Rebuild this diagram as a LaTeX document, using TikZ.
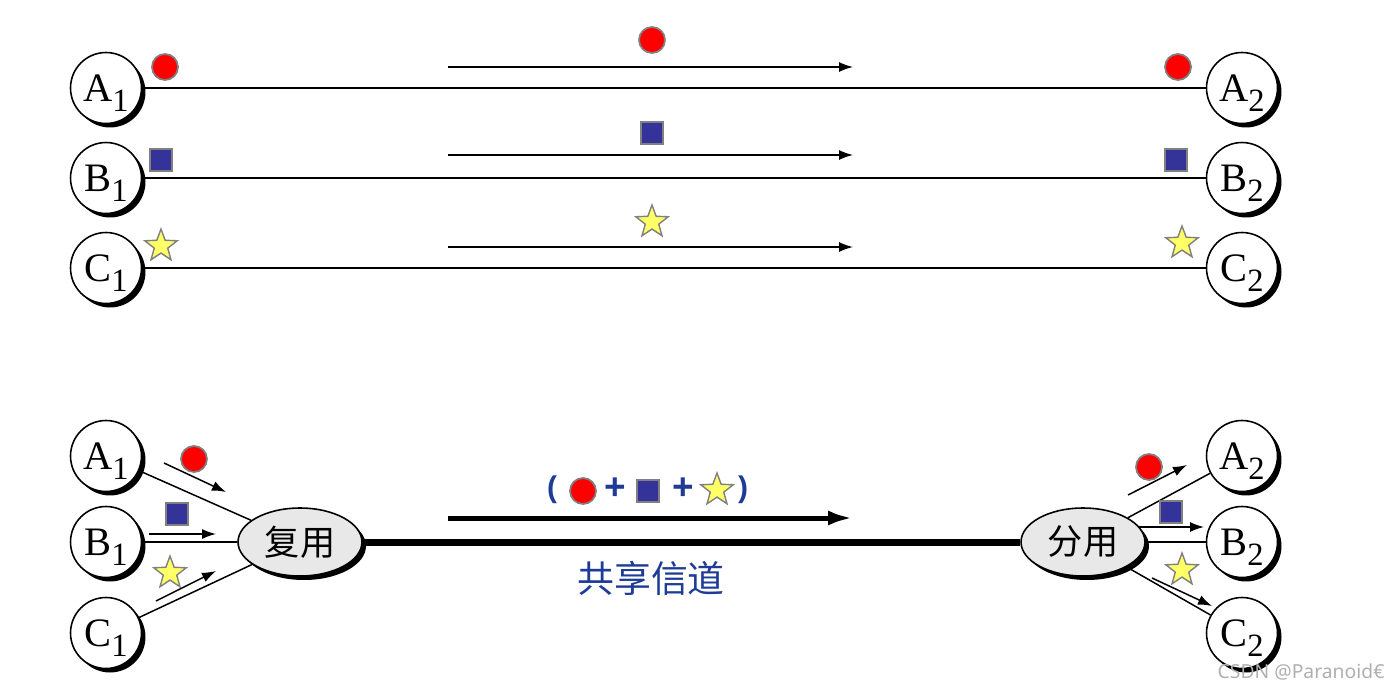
\documentclass[tikz,border=0pt]{standalone}
\usepackage{fontspec}
\setmainfont{Liberation Serif}
\newfontfamily\cjk{Noto Sans CJK SC}
\newfontfamily\wmfont{Noto Sans}
\newfontfamily\plusfont{Liberation Sans}
\usetikzlibrary{shapes.geometric,arrows.meta,shadows}
\definecolor{sqblue}{RGB}{51,51,153}
\definecolor{staryellow}{RGB}{255,255,102}
\definecolor{txtblue}{RGB}{30,60,150}
\definecolor{wmgray}{RGB}{175,175,175}
\newcommand{\hostlabel}[2]{\fontsize{23pt}{23pt}\selectfont #1\raisebox{-5.7pt}[0pt][0pt]{\fontsize{18.5pt}{18.5pt}\selectfont #2}}
\tikzset{
  host/.style={circle, draw, line width=0.9pt, fill=white, minimum size=1.42cm, inner sep=0pt,
    drop shadow={opacity=1, fill=black, shadow xshift=0.08cm, shadow yshift=-0.08cm}},
  muxnode/.style={ellipse, draw, line width=0.9pt, fill=black!9, minimum width=2.48cm, minimum height=1.36cm, inner sep=0pt,
    font=\cjk\fontsize{20pt}{20pt}\selectfont,
    drop shadow={opacity=1, fill=black, shadow xshift=0.08cm, shadow yshift=-0.08cm}},
  reddot/.style={circle, fill=red, draw=gray, line width=1pt, minimum size=0.52cm, inner sep=0pt},
  bluesq/.style={rectangle, fill=sqblue, draw=gray, line width=1pt, minimum size=0.44cm, inner sep=0pt},
  ystar/.style={star, star points=5, star point ratio=2.4, fill=staryellow, draw=gray, line width=0.8pt, minimum size=0.68cm, inner sep=0pt},
  wire/.style={line width=0.85pt},
  arr/.style={line width=0.85pt, -{Latex[length=0.28cm,width=0.2cm]}},
  bigarr/.style={line width=0.1cm, -{Latex[length=0.5cm,width=0.3cm]}},
  chan/.style={line width=0.14cm},
  bluetxt/.style={text=txtblue, inner sep=0pt, font=\plusfont\bfseries\fontsize{17pt}{17pt}\selectfont},
  plustxt/.style={text=txtblue, inner sep=0pt, font=\plusfont\bfseries\fontsize{21pt}{21pt}\selectfont}
}
\begin{document}
\begin{tikzpicture}[x=0.02cm, y=-0.02cm]
\useasboundingbox (0,0) rectangle (1400,690);

% ---------- top: three separate channels ----------
\node[host] (tA1) at (106,88) {\hostlabel{A}{1}};
\node[host] (tB1) at (106,178) {\hostlabel{B}{1}};
\node[host] (tC1) at (106,268) {\hostlabel{C}{1}};
\node[host] (tA2) at (1242,88) {\hostlabel{A}{2}};
\node[host] (tB2) at (1242,178) {\hostlabel{B}{2}};
\node[host] (tC2) at (1242,268) {\hostlabel{C}{2}};

\draw[wire] (tA1) -- (tA2);
\draw[wire] (tB1) -- (tB2);
\draw[wire] (tC1) -- (tC2);

\node[reddot] (rd1) at (165,67) {};
\node[reddot] (rd2) at (652,40) {};
\node[reddot] (rd3) at (1178,67) {};
\node[bluesq] (bs1) at (161,160) {};
\node[bluesq] (bs2) at (652,133) {};
\node[bluesq] (bs3) at (1176,160) {};
\node[ystar] (ys1) at (161,246) {};
\node[ystar] (ys2) at (652,222) {};
\node[ystar] (ys3) at (1182,243) {};

\coordinate (ta1) at (448,67);  \coordinate (ta2) at (853,67);
\coordinate (tb1) at (448,155); \coordinate (tb2) at (853,155);
\coordinate (tc1) at (448,247); \coordinate (tc2) at (853,247);
\draw[arr] (ta1) -- (ta2);
\draw[arr] (tb1) -- (tb2);
\draw[arr] (tc1) -- (tc2);

% ---------- bottom: multiplexing ----------
\node[host] (bA1) at (106,456) {\hostlabel{A}{1}};
\node[host] (bB1) at (106,542) {\hostlabel{B}{1}};
\node[host] (bC1) at (106,633) {\hostlabel{C}{1}};
\node[host] (bA2) at (1242,456) {\hostlabel{A}{2}};
\node[host] (bB2) at (1242,542) {\hostlabel{B}{2}};
\node[host] (bC2) at (1242,633) {\hostlabel{C}{2}};

\node[muxnode] (mux) at (300,542) {复用};
\node[muxnode] (demux) at (1083,542) {分用};

\draw[wire] (bA1) -- (mux);
\draw[wire] (bB1) -- (mux);
\draw[wire] (bC1) -- (mux);
\draw[wire] (demux) -- (bA2);
\draw[wire] (demux) -- (bB2);
\draw[wire] (demux) -- (bC2);
\draw[chan] (mux) -- (demux);

\coordinate (la1) at (164,463); \coordinate (la2) at (226,492);
\coordinate (lb1) at (149,534); \coordinate (lb2) at (216,534);
\coordinate (lc1) at (156,601); \coordinate (lc2) at (216,571);
\draw[arr] (la1) -- (la2);
\draw[arr] (lb1) -- (lb2);
\draw[arr] (lc1) -- (lc2);

\coordinate (ra1) at (1128,495); \coordinate (ra2) at (1187,465);
\coordinate (rb1) at (1138,527); \coordinate (rb2) at (1204,527);
\coordinate (rc1) at (1152,578); \coordinate (rc2) at (1212,606);
\draw[arr] (ra1) -- (ra2);
\draw[arr] (rb1) -- (rb2);
\draw[arr] (rc1) -- (rc2);

\node[reddot] (bd1) at (194,459) {};
\node[bluesq] (bq1) at (177,514) {};
\node[ystar] (bt1) at (170,573) {};
\node[reddot] (bd2) at (1149,467) {};
\node[bluesq] (bq2) at (1171,512) {};
\node[ystar] (bt2) at (1182,570) {};

\coordinate (ba1) at (448,518); \coordinate (ba2) at (853,518);
\draw[bigarr] (ba1) -- (ba2);

% combined signal label
\node[bluetxt] (lp) at (552,490) {(};
\node[reddot] (cd) at (583,491) {};
\node[plustxt] (p1) at (615,489) {+};
\node[bluesq] (cq) at (648,491) {};
\node[plustxt] (p2) at (683,489) {+};
\node[ystar] (ct) at (717,490) {};
\node[bluetxt] (rp) at (743,490) {)};

\node[text=txtblue, inner sep=0pt, font=\cjk\fontsize{21pt}{21pt}\selectfont] (share) at (651,578) {共享信道};

\node[text=wmgray, inner sep=0pt, font=\wmfont\fontsize{11pt}{11pt}\selectfont] (wm) at (1301,672) {CSDN @Paranoid€};
\end{tikzpicture}
\end{document}
